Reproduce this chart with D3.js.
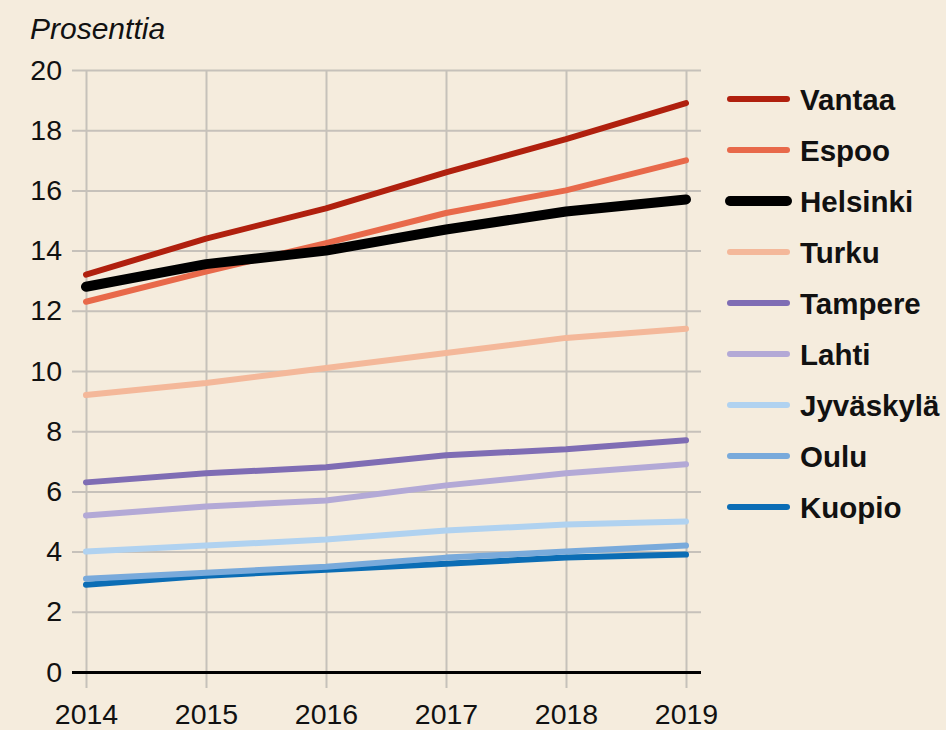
<!DOCTYPE html>
<html lang="fi">
    <head>
        <meta charset="utf-8">
        <title>Prosenttia</title>
        <style>
          body { margin: 0; background: #f5ecdd; }
          svg { display: block; }
          .tick text { font-family: "Liberation Sans", Arial, sans-serif; font-size: 28.5px; fill: #111; }
          .legend text { font-family: "Liberation Sans", Arial, sans-serif; font-size: 29.5px; font-weight: bold; fill: #111; }
        </style>
        <script src="https://d3js.org/d3.v7.min.js"></script>
    </head>
    <body>
        <script type="text/javascript">
          var w = 946;
          var h = 730;

          var years = [2014, 2015, 2016, 2017, 2018, 2019];
          var cities = ["Vantaa", "Espoo", "Helsinki", "Turku", "Tampere", "Lahti", "Jyväskylä", "Oulu", "Kuopio"];
          var colors = ["#b0200e", "#e8694a", "#000000", "#f4b89a", "#7f6db4", "#b3a9d6", "#b0d2f0", "#79aadb", "#0b6db5"];
          var vantaa    = [13.2, 14.4, 15.4, 16.6, 17.7, 18.9];
          var espoo     = [12.3, 13.3, 14.25, 15.25, 16.0, 17.0];
          var helsinki  = [12.8, 13.55, 14.0, 14.7, 15.3, 15.7];
          var turku     = [9.2, 9.6, 10.1, 10.6, 11.1, 11.4];
          var tampere   = [6.3, 6.6, 6.8, 7.2, 7.4, 7.7];
          var lahti     = [5.2, 5.5, 5.7, 6.2, 6.6, 6.9];
          var jyvaskyla = [4.0, 4.2, 4.4, 4.7, 4.9, 5.0];
          var oulu      = [3.1, 3.3, 3.5, 3.8, 4.0, 4.2];
          var kuopio    = [2.9, 3.2, 3.4, 3.6, 3.8, 3.9];
          var yTicks = [0, 2, 4, 6, 8, 10, 12, 14, 16, 18, 20];

          var series = [vantaa, espoo, helsinki, turku, tampere, lahti, jyvaskyla, oulu, kuopio];

          var svg = d3.select("body").append("svg")
            .attr("width", w)
            .attr("height", h);

          var x = d3.scaleLinear().domain([2014, 2019]).range([86, 686]);
          var y = d3.scaleLinear().domain([0, 20]).range([672, 70]);

          // vertical grid + year labels
          var xAxis = svg.append("g")
            .attr("transform", "translate(0,688)")
            .call(d3.axisBottom(x).tickValues(years).tickFormat(d3.format("d")).tickSize(-618).tickPadding(10));
          xAxis.select(".domain").remove();
          xAxis.selectAll(".tick line").attr("stroke", "#c6c1ba").attr("stroke-width", 2);
          xAxis.selectAll(".tick text").attr("dy", "0.9em");

          // horizontal grid + value labels
          var yAxis = svg.append("g")
            .attr("transform", "translate(72,0)")
            .call(d3.axisLeft(y).tickValues(yTicks).tickSize(-629).tickPadding(10));
          yAxis.select(".domain").remove();
          yAxis.selectAll(".tick line")
            .attr("x2", 629)
            .attr("stroke", function(d) { return d == 0 ? "#000" : "#c6c1ba"; })
            .attr("stroke-width", function(d) { return d == 0 ? 3 : 2; });
          yAxis.selectAll(".tick text").attr("x", -10);

          svg.append("text")
            .attr("x", 30)
            .attr("y", 39)
            .style("font-family", "'Liberation Sans', Arial, sans-serif")
            .style("font-style", "italic")
            .style("font-size", "30px")
            .style("fill", "#111")
            .text("Prosenttia");

          var line = d3.line()
            .x(function(d, i) { return x(years[i]); })
            .y(function(d) { return y(d); });

          // draw helsinki last so it sits on top
          var order = [8, 7, 6, 5, 4, 3, 1, 0, 2];
          order.forEach(function(k) {
            svg.append("path")
              .datum(series[k])
              .attr("d", line)
              .attr("fill", "none")
              .attr("stroke", colors[k])
              .attr("stroke-width", k == 2 ? 10 : 6)
              .attr("stroke-linecap", "round")
              .attr("stroke-linejoin", "round");
          });

          var legend = svg.append("g").attr("class", "legend");
          var item = legend.selectAll("g")
            .data(cities)
            .enter().append("g")
            .attr("transform", function(d, i) { return "translate(730," + (99 + i * 51) + ")"; });
          item.append("line")
            .attr("x1", 0).attr("x2", 57)
            .attr("stroke", function(d, i) { return colors[i]; })
            .attr("stroke-width", function(d, i) { return i == 2 ? 10 : 6; })
            .attr("stroke-linecap", "round");
          item.append("text")
            .attr("x", 70)
            .attr("dy", "0.36em")
            .text(function(d) { return d; });
        </script>
    </body>
</html>
